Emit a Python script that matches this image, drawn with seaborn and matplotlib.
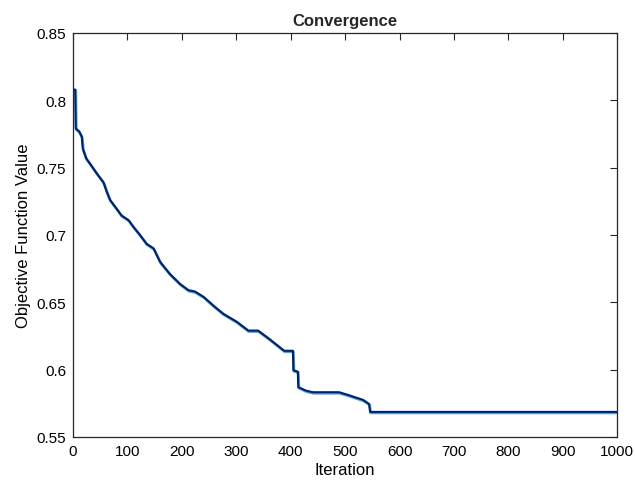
import matplotlib
matplotlib.use("Agg")
import matplotlib.pyplot as plt
import matplotlib.patheffects as pe
import seaborn as sns
import pandas as pd

# values
iteration = [0, 4, 5, 11, 16, 18, 24, 31, 44, 56, 62, 68, 80, 89, 102, 111,
             123, 135, 148, 160, 178, 197, 212, 224, 240, 258, 276, 301, 322,
             340, 360, 388, 404, 405, 413, 414, 428, 441, 489, 507, 533, 544,
             546, 1000]
objective = [0.808, 0.808, 0.779, 0.777, 0.773, 0.764, 0.757, 0.753, 0.7455,
             0.739, 0.732, 0.726, 0.7195, 0.7145, 0.711, 0.706, 0.700, 0.6935,
             0.690, 0.680, 0.671, 0.6635, 0.659, 0.658, 0.654, 0.6475, 0.6415,
             0.6355, 0.629, 0.629, 0.623, 0.614, 0.614, 0.5995, 0.5985, 0.587,
             0.5844, 0.5832, 0.5832, 0.581, 0.5775, 0.5745, 0.5686, 0.5686]

xticks = list(range(0, 1001, 100))
yticks = [0.55, 0.6, 0.65, 0.7, 0.75, 0.8, 0.85]
ytick_labels = ["0.55", "0.6", "0.65", "0.7", "0.75", "0.8", "0.85"]

df = pd.DataFrame({"Iteration": iteration, "Objective": objective})

sns.set_style("white")
plt.rcParams["font.family"] = ["Liberation Sans", "DejaVu Sans"]

fig = plt.figure(figsize=(6.35, 4.85), dpi=100)
ax = fig.add_axes([0.115, 0.097, 0.857, 0.833])

sns.lineplot(data=df, x="Iteration", y="Objective", ax=ax, sort=False,
             estimator=None, color="#0b1f5e", linewidth=1.5,
             path_effects=[pe.Stroke(linewidth=2.0, foreground="#3aa6f2",
                                     offset=(0.4, -0.7)),
                           pe.Normal()])

ax.set_xlim(0, 1000)
ax.set_ylim(0.55, 0.85)
ax.set_xticks(xticks)
ax.set_yticks(yticks)
ax.set_yticklabels(ytick_labels)
ax.tick_params(direction="in", length=5, width=0.8, top=True, right=True,
               labelsize=11, colors="#262626", labelcolor="black", pad=5)
for s in ax.spines.values():
    s.set_color("#262626")
    s.set_linewidth(0.9)

ax.set_title("Convergence", fontsize=12, fontweight="bold", pad=6)
ax.set_xlabel("Iteration", fontsize=12, labelpad=3, color="black")
ax.set_ylabel("Objective Function Value", fontsize=12, labelpad=4,
              color="black")

fig.savefig("out.png", dpi=100, facecolor="white")
